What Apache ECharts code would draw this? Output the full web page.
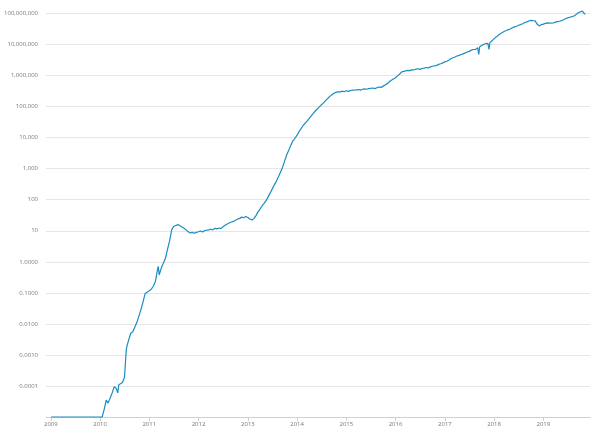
<!DOCTYPE html>
<html>
<head>
<meta charset="utf-8">
<script src="https://cdn.jsdelivr.net/npm/echarts@6/dist/echarts.min.js"></script>
<style>
html,body{margin:0;padding:0;background:#fff;}
#c{width:595px;height:437px;}
</style>
</head>
<body>
<div id="c"></div>
<script>
// Hash rate series, one small array per year
const y2009 = [["2009-01-03",1e-5],["2009-07-01",1e-5]];
const y2010 = [["2010-01-01",1e-5],["2010-01-16",1e-5],["2010-01-22",1e-5],["2010-02-01",1.8e-5],["2010-02-16",3.5e-5],["2010-03-01",2.8e-5],["2010-03-16",4.0e-5],["2010-04-01",6.0e-5],["2010-04-16",9.5e-5],["2010-05-01",8.3e-5],["2010-05-12",6.0e-5],["2010-05-20",1.1e-4],["2010-06-01",1.17e-4],["2010-06-16",1.3e-4],["2010-07-01",1.9e-4],["2010-07-10",2.0e-4],["2010-07-14",1.45e-3],["2010-07-20",2.0e-3],["2010-08-01",3.0e-3],["2010-08-16",5.0e-3],["2010-09-01",5.6e-3],["2010-09-16",7.9e-3],["2010-10-01",0.0112],["2010-10-16",0.0178],["2010-11-01",0.030],["2010-11-16",0.052],["2010-12-01",0.095],["2010-12-16",0.105]];
const y2011 = [["2011-01-01",0.117],["2011-01-16",0.132],["2011-02-01",0.166],["2011-02-16",0.24],["2011-03-01",0.50],["2011-03-08",0.71],["2011-03-16",0.38],["2011-04-01",0.66],["2011-04-16",0.91],["2011-05-01",1.32],["2011-05-16",2.5],["2011-06-01",4.8],["2011-06-16",10.7],["2011-07-01",13.8],["2011-07-16",14.8],["2011-08-01",15.8],["2011-08-16",14.5],["2011-09-01",13.2],["2011-09-16",12.0],["2011-10-01",10.7],["2011-10-16",9.3],["2011-11-01",8.5],["2011-11-16",8.9],["2011-12-01",8.3],["2011-12-16",8.9]];
const y2012 = [["2012-01-01",9.3],["2012-01-16",9.8],["2012-02-01",9.1],["2012-02-16",10.2],["2012-03-01",9.8],["2012-03-16",10.7],["2012-04-01",11.2],["2012-04-16",10.7],["2012-05-01",12.0],["2012-05-16",11.5],["2012-06-01",12.3],["2012-06-16",11.7],["2012-07-01",13.5],["2012-07-16",15.1],["2012-08-01",16.6],["2012-08-16",17.8],["2012-09-01",19.1],["2012-09-16",20.0],["2012-10-01",21.9],["2012-10-16",23.4],["2012-11-01",25.1],["2012-11-16",27.5],["2012-12-01",26.3],["2012-12-16",28.8]];
const y2013 = [["2013-01-01",26.9],["2013-01-16",24.0],["2013-02-01",22.4],["2013-02-16",25.1],["2013-03-01",30.2],["2013-03-16",39.8],["2013-04-01",50.1],["2013-04-16",63],["2013-05-01",76],["2013-05-16",93],["2013-06-01",126],["2013-06-16",166],["2013-07-01",224],["2013-07-16",302],["2013-08-01",398],["2013-08-16",550],["2013-09-01",794],["2013-09-16",1122],["2013-10-01",1778],["2013-10-16",2818],["2013-11-01",3981],["2013-11-16",5754],["2013-12-01",7943],["2013-12-16",9550]];
const y2014 = [["2014-01-01",12000],["2014-01-16",15850],["2014-02-01",19950],["2014-02-16",25100],["2014-03-01",28840],["2014-03-16",33900],["2014-04-01",41700],["2014-04-16",50100],["2014-05-01",60300],["2014-05-16",72400],["2014-06-01",85100],["2014-06-16",100000],["2014-07-01",114800],["2014-07-16",131800],["2014-08-01",158500],["2014-08-16",182000],["2014-09-01",213800],["2014-09-16",240000],["2014-10-01",269000],["2014-10-16",288000],["2014-11-01",302000],["2014-11-16",295000],["2014-12-01",316000],["2014-12-16",302000]];
const y2015 = [["2015-01-01",324000],["2015-01-16",309000],["2015-02-01",331000],["2015-02-16",339000],["2015-03-01",324000],["2015-03-16",347000],["2015-04-01",355000],["2015-04-16",339000],["2015-05-01",363000],["2015-05-16",372000],["2015-06-01",363000],["2015-06-16",380000],["2015-07-01",389000],["2015-07-16",398000],["2015-08-01",380000],["2015-08-16",407000],["2015-09-01",427000],["2015-09-16",417000],["2015-10-01",457000],["2015-10-16",501000],["2015-11-01",550000],["2015-11-16",631000],["2015-12-01",708000],["2015-12-16",776000]];
const y2016 = [["2016-01-01",851000],["2016-01-16",977000],["2016-02-01",1122000],["2016-02-16",1318000],["2016-03-01",1380000],["2016-03-16",1413000],["2016-04-01",1479000],["2016-04-16",1445000],["2016-05-01",1549000],["2016-05-16",1514000],["2016-06-01",1622000],["2016-06-16",1660000],["2016-07-01",1585000],["2016-07-16",1698000],["2016-08-01",1738000],["2016-08-16",1820000],["2016-09-01",1778000],["2016-09-16",1905000],["2016-10-01",1995000],["2016-10-16",2042000],["2016-11-01",2138000],["2016-11-16",2291000],["2016-12-01",2399000],["2016-12-16",2570000]];
const y2017 = [["2017-01-01",2754000],["2017-01-16",2884000],["2017-02-01",3162000],["2017-02-16",3548000],["2017-03-01",3802000],["2017-03-16",3981000],["2017-04-01",4266000],["2017-04-16",4467000],["2017-05-01",4786000],["2017-05-16",5012000],["2017-06-01",5370000],["2017-06-16",5754000],["2017-07-01",6026000],["2017-07-16",6607000],["2017-08-01",6918000],["2017-08-16",6918000],["2017-09-01",7943000],["2017-09-09",4786000],["2017-09-16",8511000],["2017-10-01",9333000],["2017-10-16",10230000],["2017-11-01",10720000],["2017-11-16",10960000],["2017-11-24",6918000],["2017-12-01",11480000],["2017-12-16",13180000]];
const y2018 = [["2018-01-01",15490000],["2018-01-16",17380000],["2018-02-01",19950000],["2018-02-16",22390000],["2018-03-01",24550000],["2018-03-16",26300000],["2018-04-01",28180000],["2018-04-16",30200000],["2018-05-01",31620000],["2018-05-16",34670000],["2018-06-01",37150000],["2018-06-16",38900000],["2018-07-01",41690000],["2018-07-16",43650000],["2018-08-01",46770000],["2018-08-16",51290000],["2018-09-01",53700000],["2018-09-16",57540000],["2018-10-01",60260000],["2018-10-16",58880000],["2018-11-01",57540000],["2018-11-16",45710000],["2018-12-01",39810000],["2018-12-16",43650000]];
const y2019 = [["2019-01-01",45710000],["2019-01-16",47860000],["2019-02-01",50120000],["2019-02-16",48980000],["2019-03-01",51290000],["2019-03-16",50120000],["2019-04-01",52480000],["2019-04-16",54950000],["2019-05-01",56230000],["2019-05-16",58880000],["2019-06-01",63100000],["2019-06-16",69180000],["2019-07-01",72440000],["2019-07-16",75860000],["2019-08-01",79430000],["2019-08-16",83180000],["2019-09-01",93330000],["2019-09-16",104700000],["2019-10-01",112200000],["2019-10-16",120200000],["2019-11-01",100000000],["2019-11-08",93330000]];

const hashRate = [].concat(y2009, y2010, y2011, y2012, y2013, y2014, y2015, y2016, y2017, y2018, y2019);

const YEAR_MS = 365.25 * 24 * 3600 * 1000;
const chart = echarts.init(document.getElementById('c'), null, {renderer: 'canvas'});
const FONT = 'Open Sans';
chart.setOption({
  animation: false,
  backgroundColor: '#ffffff',
  grid: {left: 46, right: 5, top: 13.5, bottom: 20, containLabel: false},
  xAxis: {
    type: 'time',
    min: '2008-11-26',
    max: '2019-12-13',
    minInterval: YEAR_MS * 0.9,
    maxInterval: YEAR_MS * 1.1,
    splitNumber: 11,
    splitLine: {show: false},
    axisLine: {show: true, lineStyle: {color: '#d0d0d0', width: 1}},
    axisTick: {show: true, length: 4, lineStyle: {color: '#d0d0d0'}},
    axisLabel: {
      color: '#777', fontSize: 6, fontFamily: FONT, margin: 4,
      showMinLabel: false, showMaxLabel: false,
      formatter: function (v) {
        const d = new Date(v);
        if (d.getMonth() === 0 && d.getDate() === 1) return String(d.getFullYear());
        return '';
      }
    }
  },
  yAxis: {
    type: 'log',
    logBase: 10,
    min: 1e-5,
    max: 1e8,
    interval: 1,
    splitNumber: 13,
    axisLine: {show: false},
    axisTick: {show: false},
    splitLine: {show: true, lineStyle: {color: '#e6e6e6', width: 1}},
    axisLabel: {
      color: '#777', fontSize: 6, fontFamily: FONT, margin: 8,
      formatter: function (v) {
        if (v < 5e-5) return '';
        if (v >= 10) return Math.round(v).toLocaleString('en-US');
        return v.toFixed(4);
      }
    }
  },
  series: [{
    type: 'line',
    data: hashRate,
    showSymbol: false,
    clip: false,
    lineStyle: {color: '#1a8cc1', width: 1.2},
    itemStyle: {color: '#1a8cc1'}
  }]
});
</script>
</body>
</html>
